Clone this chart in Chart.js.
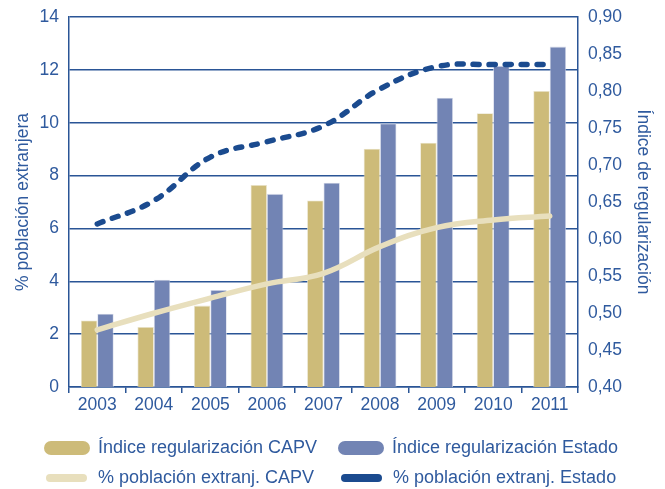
<!DOCTYPE html>
<html>
<head>
<meta charset="utf-8">
<script src="https://cdn.jsdelivr.net/npm/chart.js@4.4.0/dist/chart.umd.min.js"></script>
<style>
  html, body { margin: 0; padding: 0; background: #fff; }
  body { width: 665px; height: 489px; overflow: hidden; font-family: "Liberation Sans", Arial, sans-serif; }
  #wrap { position: relative; width: 665px; height: 425px; }
  .legend { position: absolute; left: 0; top: 0; width: 665px; height: 489px; pointer-events: none; }
  .item { position: absolute; display: flex; align-items: center; color: #2f5a9e; font-size: 18px; white-space: nowrap; }
  .sw { display: inline-block; border-radius: 8px; margin-right: 8px; }
</style>
</head>
<body>
<div id="wrap"><canvas id="chart" width="665" height="425"></canvas></div>
<div class="legend">
  <div class="item" style="left:44px; top:437px;"><span class="sw" style="width:46px;height:14px;background:#cdbb79"></span>Índice regularización CAPV</div>
  <div class="item" style="left:338px; top:437px;"><span class="sw" style="width:46px;height:14px;background:#7284b4"></span>Índice regularización Estado</div>
  <div class="item" style="left:46px; top:467px;"><span class="sw" style="width:41px;height:8px;margin-right:11px;background:#e8dfbd"></span>% población extranj. CAPV</div>
  <div class="item" style="left:341px; top:467px;"><span class="sw" style="width:41px;height:8px;margin-right:11px;background:#1b4b8f"></span>% población extranj. Estado</div>
</div>
<script>
// --- datos ---
const years = ['2003','2004','2005','2006','2007','2008','2009','2010','2011'];
const indiceCAPV   = [0.490, 0.481, 0.510, 0.673, 0.652, 0.722, 0.730, 0.770, 0.800];
const indiceEstado = [0.499, 0.545, 0.531, 0.661, 0.676, 0.756, 0.791, 0.834, 0.860];
const pobCAPV   = [2.16, 2.79, 3.36, 3.90, 4.30, 5.31, 6.03, 6.32, 6.47];
const pobEstado = [6.17, 7.05, 8.70, 9.28, 9.88, 11.28, 12.12, 12.20, 12.20];
const leftTicks = [0, 2, 4, 6, 8, 10, 12, 14];
const rightTicks = [0.40, 0.45, 0.50, 0.55, 0.60, 0.65, 0.70, 0.75, 0.80, 0.85, 0.90];

const blue = '#2f5a9e';
const gridBlue = '#2a5596';
const font = { family: '"Liberation Sans", Arial, sans-serif', size: 17.5 };

// ancho fijo de los ejes y sin relleno extra arriba/abajo
const fixY = w => s => { s.width = w; s.paddingTop = 0; s.paddingBottom = 0; };

new Chart(document.getElementById('chart').getContext('2d'), {
  data: {
    labels: years,
    datasets: [
      { type: 'line', label: '% población extranj. Estado', data: pobEstado, yAxisID: 'y',
        borderColor: '#1b4b8f', borderWidth: 5.5, borderDash: [6, 10], borderCapStyle: 'round',
        tension: 0.4, pointRadius: 0, fill: false, order: 0 },
      { type: 'line', label: '% población extranj. CAPV', data: pobCAPV, yAxisID: 'y',
        borderColor: '#e8dfbd', borderWidth: 5.5, borderCapStyle: 'round',
        tension: 0.4, pointRadius: 0, fill: false, order: 1 },
      { type: 'bar', label: 'Índice regularización CAPV', data: indiceCAPV, yAxisID: 'y1',
        backgroundColor: '#cdbb79', borderColor: '#e9e3cc', borderWidth: 0.8,
        categoryPercentage: 0.58, barPercentage: 1, order: 2 },
      { type: 'bar', label: 'Índice regularización Estado', data: indiceEstado, yAxisID: 'y1',
        backgroundColor: '#7284b4', borderColor: '#d7dcea', borderWidth: 0.8,
        categoryPercentage: 0.58, barPercentage: 1, order: 3 },
    ],
  },
  options: {
    responsive: false,
    animation: false,
    layout: { padding: { top: 17, left: 0, right: 0, bottom: 0 } },
    plugins: { legend: { display: false }, tooltip: { enabled: false } },
    scales: {
      x: {
        offset: true,
        grid: { drawOnChartArea: false, drawTicks: true, tickLength: 6, color: gridBlue, lineWidth: 1.5 },
        border: { color: gridBlue, width: 1.5 },
        ticks: { color: blue, font, padding: 2, maxRotation: 0 },
        afterFit: s => { s.height = 38; s.paddingLeft = 0; s.paddingRight = 0; },
      },
      y: {
        position: 'left', min: 0, max: 14,
        afterBuildTicks: s => { s.ticks = leftTicks.map(v => ({ value: v })); },
        grid: { color: gridBlue, lineWidth: 1.5, drawTicks: false },
        border: { color: gridBlue, width: 1.5 },
        ticks: { color: blue, font, padding: 10 },
        title: { display: true, text: '% población extranjera', color: blue, font, padding: { top: 13, bottom: 0 } },
        afterFit: fixY(69),
      },
      y1: {
        position: 'right', min: 0.40, max: 0.90,
        afterBuildTicks: s => { s.ticks = rightTicks.map(v => ({ value: v })); },
        grid: { drawOnChartArea: false, drawTicks: false },
        border: { color: gridBlue, width: 1.5 },
        ticks: { color: blue, font, padding: 10, callback: v => v.toFixed(2).replace('.', ',') },
        title: { display: true, text: 'Índice de regularización', color: blue, font, padding: { top: 12, bottom: 0 } },
        afterFit: fixY(87),
      },
    },
  },
});
</script>
</body>
</html>
